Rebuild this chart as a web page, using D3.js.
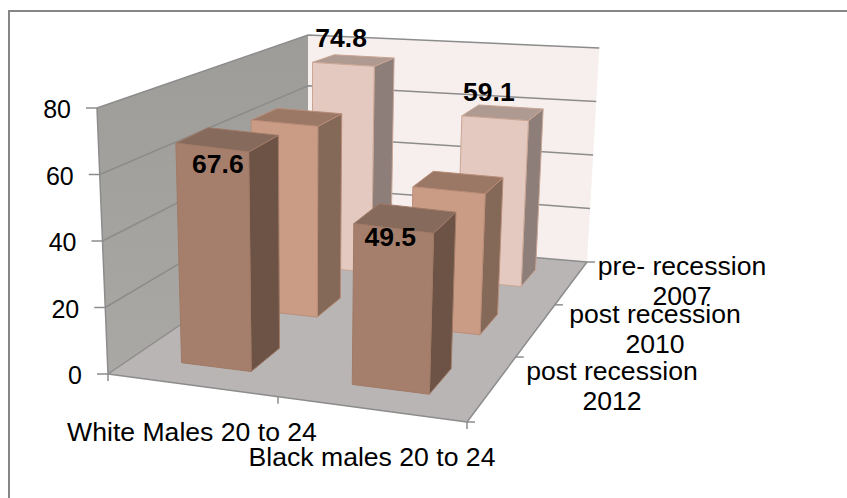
<!DOCTYPE html>
<html><head><meta charset="utf-8">
<script src="https://cdn.jsdelivr.net/npm/d3@7"></script>
<style>html,body{margin:0;background:#fff}svg{display:block}text{font-family:"Liberation Sans",Arial,sans-serif;fill:#000}</style>
</head><body><svg id="c" width="847" height="498"></svg>
<script>
const categories = ["White Males 20 to 24", "Black males 20 to 24"];
const periods = ["post recession 2012", "post recession 2010", "pre- recession 2007"];
const values2012 = [67.6, 49.5];
const values2010 = [63.5, 46.5];
const values2007 = [74.8, 59.1];
const valueTicks = [0, 20, 40, 60, 80];
const seriesRows = [values2012, values2010, values2007];
const labelled = [true, false, true];
const labelDrop = [[25, 18], [0, 0], [-17, -17]];
const labelShift = [[6, -3], [0, 0], [-2, -6]];

const frontFace = ["#a67f6c", "#cb9c85", "#e3c9bf"];
const topFace = ["#866a5b", "#9b7765", "#ae9a90"];
const sideFace = ["#6c5345", "#846858", "#8d7e79"];
const edge = ["#a07a66", "#b98d78", "#c9a594"];

// Floor corners on screen, the point where verticals converge,
// and the on-screen height of the full value axis at each floor corner.
const floorQuad = [[108, 374], [467, 422], [587, 262], [308, 238]];
const verticalVanish = [306, 5157];
const cornerRise = [266, 265, 214, 203];

// Maps the unit square onto a quadrilateral (perspective transform).
function quadMap(q) {
  const [[x0, y0], [x1, y1], [x2, y2], [x3, y3]] = q;
  const dx1 = x1 - x2, dx2 = x3 - x2, sx = x0 - x1 + x2 - x3;
  const dy1 = y1 - y2, dy2 = y3 - y2, sy = y0 - y1 + y2 - y3;
  const den = dx1 * dy2 - dx2 * dy1;
  const g = (sx * dy2 - dx2 * sy) / den, h = (dx1 * sy - sx * dy1) / den;
  const a = x1 - x0 + g * x1, b = x3 - x0 + h * x3, d = y1 - y0 + g * y1, e = y3 - y0 + h * y3;
  return (u, v) => {
    const w = g * u + h * v + 1;
    return [(a * u + b * v + x0) / w, (d * u + e * v + y0) / w];
  };
}
const floorAt = quadMap(floorQuad);

const heightScale = d3.scaleLinear().domain([0, 80]).range([0, 1]);
const catScale = d3.scaleBand().domain(categories).range([0, 1]).paddingInner(0.58).paddingOuter(0.29).align(0.517);
const depthScale = d3.scaleBand().domain(periods).range([0, 1]).paddingInner(0.597).paddingOuter(0.291).align(0.51);

function riseAt(u, v) {
  const [a, b, c, d] = cornerRise;
  return (a * (1 - u) + b * u) * (1 - v) + (d * (1 - u) + c * u) * v;
}

function project(u, v, value) {
  const p = floorAt(u, v);
  const r = riseAt(u, v) * heightScale(value) / (verticalVanish[1] - p[1]);
  return [p[0] + (p[0] - verticalVanish[0]) * r, p[1] - (verticalVanish[1] - p[1]) * r];
}

const svg = d3.select("#c");
const line = d3.line();
const poly = pts => line(pts) + "Z";

// Frame: only its top and left edges fall inside the canvas
svg.append("path").attr("d", line([[9, 498], [9, 11], [847, 11]]))
  .attr("fill", "none").attr("stroke", "#868686").attr("stroke-width", 2);

// Walls and floor
const defs = svg.append("defs");
const lg = defs.append("linearGradient").attr("id", "sideWall").attr("x1", 0).attr("y1", 0).attr("x2", 0).attr("y2", 1);
lg.append("stop").attr("offset", 0).attr("stop-color", "#9e9c99");
lg.append("stop").attr("offset", 1).attr("stop-color", "#a9a8a5");

svg.append("path").attr("d", poly([project(0, 0, 0), project(0, 1, 0), project(0, 1, 80), project(0, 0, 80)]))
  .attr("fill", "url(#sideWall)");
svg.append("path").attr("d", poly([project(0, 1, 0), project(1, 1, 0), project(1, 1, 80), project(0, 1, 80)]))
  .attr("fill", "#f6efed");
svg.append("path").attr("d", poly([project(0, 0, 0), project(1, 0, 0), project(1, 1, 0), project(0, 1, 0)]))
  .attr("fill", "#b9b5b5");

// Gridlines along both walls
const axisStroke = "#8c8c8c";
valueTicks.forEach(t => {
  svg.append("path").attr("d", line([project(0, 0, t), project(0, 1, t), project(1, 1, t)]))
    .attr("fill", "none").attr("stroke", axisStroke).attr("stroke-width", 1.5);
  const a = project(0, 0, t);
  svg.append("path").attr("d", line([[a[0] - 11, a[1]], a])).attr("stroke", axisStroke).attr("stroke-width", 1.5);
  svg.append("text").attr("x", a[0] - 26).attr("y", a[1] + 10).attr("text-anchor", "end")
    .attr("font-size", 25).text(t);
});

// Axis edges and their tick marks
const edgeLines = [
  [project(0, 0, 0), project(0, 0, 80)],
  [project(0, 0, 0), project(1, 0, 0)],
  [project(1, 0, 0), project(1, 1, 0)]
];
edgeLines.forEach(l => svg.append("path").attr("d", line(l)).attr("stroke", axisStroke).attr("stroke-width", 1.5));
[0, 0.5, 1].forEach(u => {
  const a = project(u, 0, 0);
  svg.append("path").attr("d", line([a, [a[0], a[1] + 7]])).attr("stroke", axisStroke).attr("stroke-width", 1.5);
});
[0, 1 / 3, 2 / 3, 1].forEach(v => {
  const a = project(1, v, 0);
  svg.append("path").attr("d", line([a, [a[0] + 8, a[1]]])).attr("stroke", axisStroke).attr("stroke-width", 1.5);
});

// Bars, far row first so nearer boxes overlap
d3.range(periods.length - 1, -1, -1).forEach(s => {
  categories.forEach((cat, c) => {
    const val = seriesRows[s][c];
    const u0 = catScale(cat), u1 = u0 + catScale.bandwidth();
    const v0 = depthScale(periods[s]), v1 = v0 + depthScale.bandwidth();
    const g = svg.append("g").attr("stroke", edge[s]).attr("stroke-width", 1).attr("stroke-linejoin", "round");
    g.append("path").attr("fill", sideFace[s])
      .attr("d", poly([project(u1, v0, 0), project(u1, v1, 0), project(u1, v1, val), project(u1, v0, val)]));
    g.append("path").attr("fill", topFace[s])
      .attr("d", poly([project(u0, v0, val), project(u1, v0, val), project(u1, v1, val), project(u0, v1, val)]));
    g.append("path").attr("fill", frontFace[s])
      .attr("d", poly([project(u0, v0, 0), project(u1, v0, 0), project(u1, v0, val), project(u0, v0, val)]));
  });
});

// Value labels sit above everything else, placed from the bar's front edge
seriesRows.forEach((vals, s) => {
  if (!labelled[s]) return;
  categories.forEach((cat, c) => {
    const u = catScale(cat) + catScale.bandwidth() / 2;
    const p = project(u, depthScale(periods[s]), vals[c]);
    svg.append("text").attr("x", p[0] + labelShift[s][c]).attr("y", p[1] + labelDrop[s][c])
      .attr("text-anchor", "middle").attr("font-size", 26.5).attr("font-weight", "bold").text(vals[c].toFixed(1));
  });
});

// Category and period labels
const catLabelPos = [[192, 441], [372, 466]];
categories.forEach((cat, i) => {
  svg.append("text").attr("x", catLabelPos[i][0]).attr("y", catLabelPos[i][1]).attr("text-anchor", "middle")
    .attr("font-size", 26.6).text(cat);
});
const periodLines = [["post recession", "2012"], ["post recession", "2010"], ["pre- recession", "2007"]];
const periodPos = [[612, 380], [655, 323], [682, 275]];
periodLines.forEach((ls, i) => {
  const t = svg.append("text").attr("text-anchor", "middle").attr("font-size", 26.6);
  ls.forEach((l, j) => t.append("tspan").attr("x", periodPos[i][0]).attr("y", periodPos[i][1] + j * 30).text(l));
});
</script></body></html>
